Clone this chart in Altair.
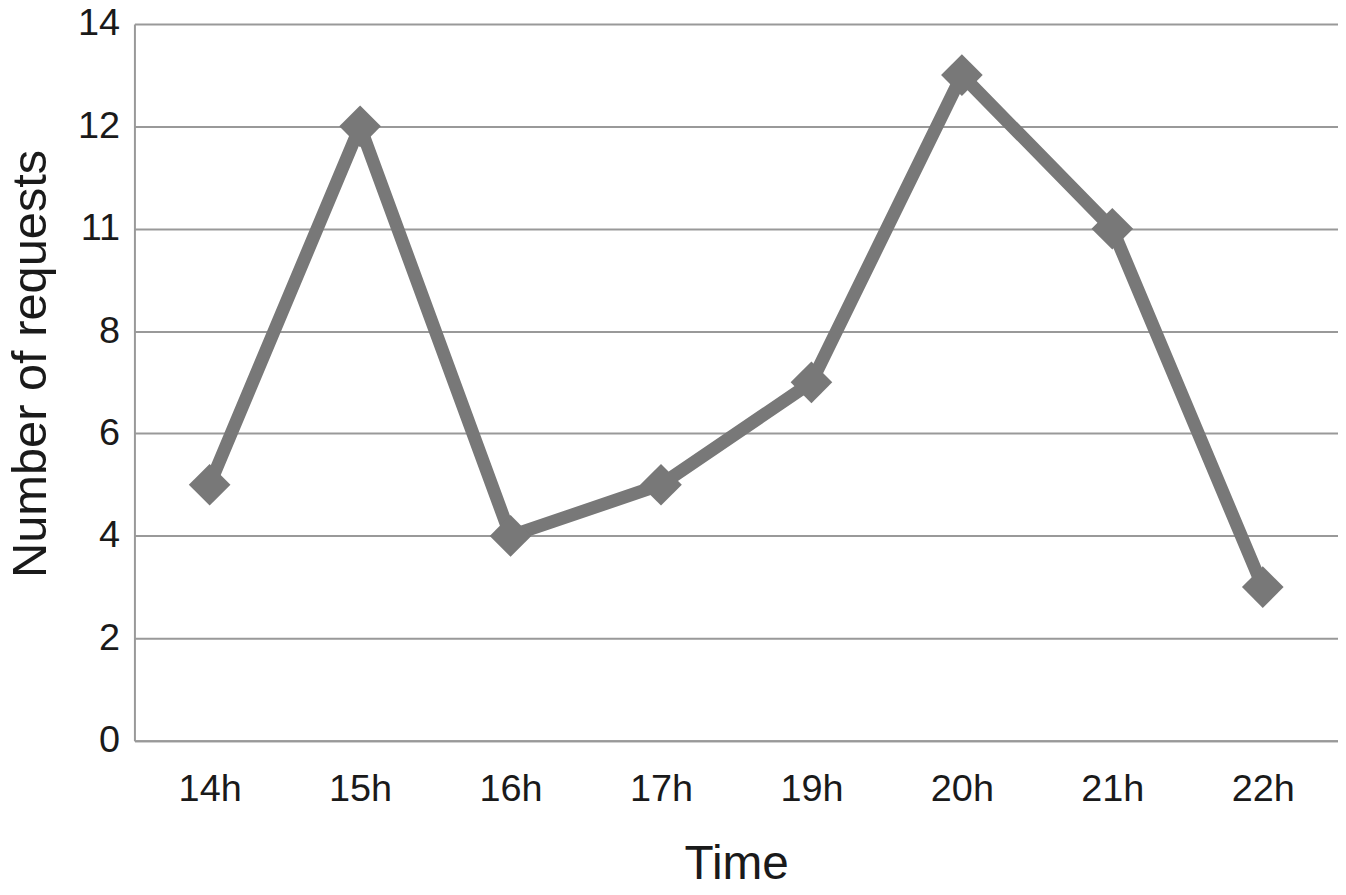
import altair as alt
import pandas as pd

times = ["14h", "15h", "16h", "17h", "19h", "20h", "21h", "22h"]
requests = [5, 12, 4, 5, 7, 13, 10, 3]
y_tick_values = [0, 2, 4, 6, 8, 10, 12, 14]
y_tick_labels = ["0", "2", "4", "6", "8", "11", "12", "14"]

df = pd.DataFrame({"Time": times, "Requests": requests})

label_map = "{" + ", ".join(f"'{v}': '{l}'" for v, l in zip(y_tick_values, y_tick_labels)) + "}"
label_expr = f"{label_map}[datum.value + '']"

FONT = "Liberation Sans"
GREY = "#787878"

x = alt.X("Time:N", sort=times, title="Time",
          scale=alt.Scale(paddingInner=0, paddingOuter=0),
          axis=alt.Axis(labelAngle=0, ticks=False, domain=True, domainColor="#999999",
                        domainWidth=2, grid=False, labelFontSize=38, labelPadding=30,
                        titleFontSize=48, titlePadding=32, titleFontWeight="normal"))
y = alt.Y("Requests:Q", title="Number of requests",
          scale=alt.Scale(domain=[0, 14], nice=False),
          axis=alt.Axis(values=y_tick_values, labelExpr=label_expr, ticks=False,
                        domain=True, domainColor="#999999", domainWidth=2,
                        grid=True, gridColor="#999999", gridWidth=2,
                        labelFontSize=38, labelPadding=15,
                        titleFontSize=49, titlePadding=22, titleY=341,
                        titleFontWeight="normal"))

base = alt.Chart(df)
line = base.mark_line(color=GREY, strokeWidth=13).encode(x=x, y=y)
pts = base.mark_point(shape="diamond", filled=True, color=GREY, opacity=1, size=1750).encode(x=x, y=y)

chart = (line + pts).properties(
    width=1209, height=720,
    autosize=alt.AutoSizeParams(type="none"),
    padding={"left": 127, "top": 14, "right": 0, "bottom": 151},
).configure(font=FONT).configure_axis(
    labelColor="#1a1a1a", titleColor="#1a1a1a", labelFont=FONT, titleFont=FONT
).configure_view(stroke=None)

chart.save("out.html", embed_options={"renderer": "svg", "actions": False})
